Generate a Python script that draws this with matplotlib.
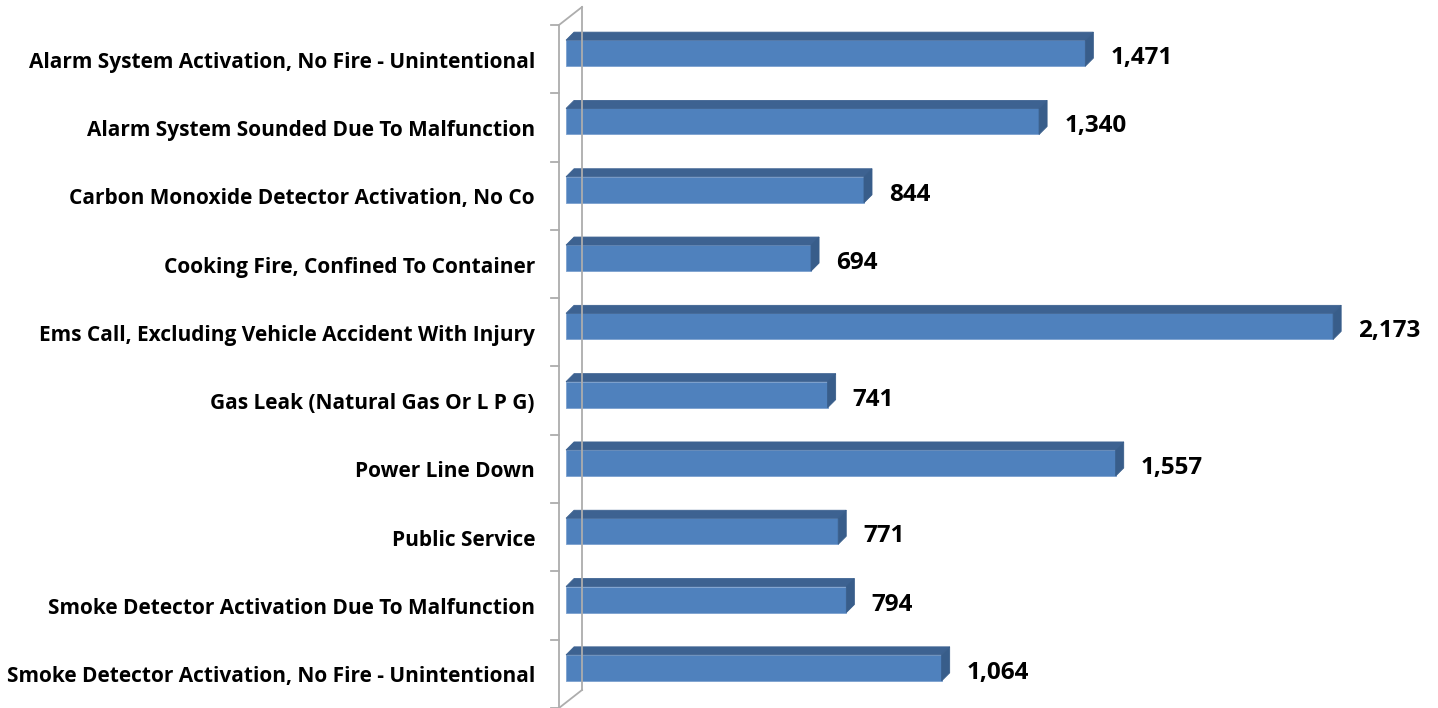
import matplotlib
matplotlib.use("Agg")
import matplotlib.pyplot as plt
from matplotlib.patches import Polygon, Rectangle

# incident types and counts
categories = [
    "Alarm System Activation, No Fire - Unintentional",
    "Alarm System Sounded Due To Malfunction",
    "Carbon Monoxide Detector Activation, No Co",
    "Cooking Fire, Confined To Container",
    "Ems Call, Excluding Vehicle Accident With Injury",
    "Gas Leak (Natural Gas Or L P G)",
    "Power Line Down",
    "Public Service",
    "Smoke Detector Activation Due To Malfunction",
    "Smoke Detector Activation, No Fire - Unintentional",
]
counts = [1471, 1340, 844, 694, 2173, 741, 1557, 771, 794, 1064]

front_col = "#4F81BD"
top_col = "#3D6291"
side_col = "#385D8A"
wall_col = "#ADADAD"

W, H = 1438, 708
fig = plt.figure(figsize=(W / 100, H / 100), dpi=100)
ax = fig.add_axes([559 / W, 0, (W - 559) / W, 683 / H])
ax.set_xlim(-20, 2470)
ax.set_ylim(len(categories) - 0.5, -0.5)
ax.axis("off")

# pixel -> data conversions for the fake depth
px_x = (2470 + 20) / (W - 559)
px_y = len(categories) / 683
dx, dy = 8 * px_x, 8 * px_y
front_top, front_bot = -19 * px_y, 7 * px_y

# back wall and floor edges
wall_dx, wall_dy = 23 * px_x, 18 * px_y
x0 = -20
yt, yb = -0.5, len(categories) - 0.5
ax.plot([x0, x0], [yt, yb], color=wall_col, lw=1.3, clip_on=False)
ax.plot([x0 + wall_dx, x0 + wall_dx], [yt - wall_dy, yb - wall_dy], color=wall_col, lw=1.3, clip_on=False)
ax.plot([x0, x0 + wall_dx], [yt, yt - wall_dy], color=wall_col, lw=1.3, clip_on=False)
ax.plot([x0, x0 + wall_dx], [yb, yb - wall_dy], color=wall_col, lw=1.3, clip_on=False)
for k in range(len(categories) + 1):
    ax.plot([x0 - 8 * px_x, x0], [k - 0.5, k - 0.5], color=wall_col, lw=1.3, clip_on=False)

for i, (name, v) in enumerate(zip(categories, counts)):
    t = i + front_top
    b = i + front_bot
    ax.add_patch(Rectangle((0, t), v, b - t, facecolor=front_col, edgecolor="#7BA0CF", lw=0.6))
    ax.add_patch(Polygon([(0, t), (v, t), (v + dx, t - dy), (dx, t - dy)],
                         closed=True, facecolor=top_col, edgecolor=top_col, lw=0.6))
    ax.add_patch(Polygon([(v, t), (v + dx, t - dy), (v + dx, b - dy), (v, b)],
                         closed=True, facecolor=side_col, edgecolor=side_col, lw=0.6))
    ax.annotate(name, xy=(0, i), xycoords=ax.get_yaxis_transform(),
                xytext=(-24, -3), textcoords="offset pixels", ha="right", va="center",
                fontsize=15, fontweight="bold", family="Open Sans", annotation_clip=False)
    ax.annotate(f"{v:,}", xy=(v + dx, i), xytext=(17, 1), textcoords="offset pixels",
                ha="left", va="center", fontsize=17.5, fontweight="bold", family="Open Sans",
                annotation_clip=False)

fig.savefig("out.png", dpi=100)
